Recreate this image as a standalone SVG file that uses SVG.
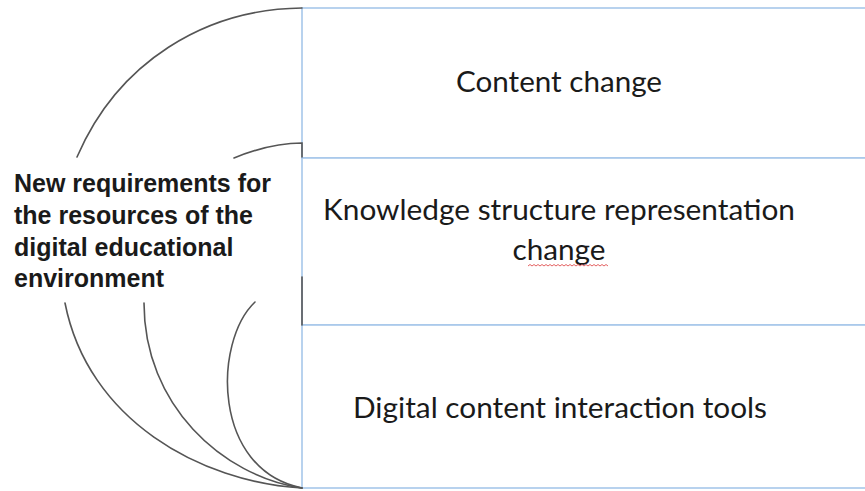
<svg xmlns="http://www.w3.org/2000/svg" width="865" height="491" viewBox="0 0 865 491">
  <style>
    .box { fill: #ffffff; stroke: #a7c7ea; stroke-width: 1.6; }
    .link { fill: none; stroke: #555555; stroke-width: 1.6; stroke-linecap: round; }
    .label { font-family: "Liberation Sans", Arial, sans-serif; font-weight: bold; font-size: 25px; fill: #1a1a1a; }
    .item { font-family: Lato, "Open Sans", sans-serif; font-size: 29px; fill: #1a1a1a; text-anchor: middle; }
  </style>
  <rect width="865" height="491" fill="#ffffff"/>

  <!-- right-hand stack of items -->
  <g id="content-change">
    <rect class="box" x="302" y="8" width="580" height="150"/>
    <text class="item" x="559" y="92" textLength="206" lengthAdjust="spacingAndGlyphs">Content change</text>
  </g>
  <g id="knowledge-structure">
    <rect class="box" x="302" y="158" width="580" height="167"/>
    <text class="item" x="559" y="220" textLength="472" lengthAdjust="spacingAndGlyphs">Knowledge structure representation</text>
    <text class="item" x="559" y="260" textLength="93" lengthAdjust="spacingAndGlyphs">change</text>
    <path d="M528,266 l2,-1.5 l2,1.5 l2,-1.5 l2,1.5 l2,-1.5 l2,1.5 l2,-1.5 l2,1.5 l2,-1.5 l2,1.5 l2,-1.5 l2,1.5 l2,-1.5 l2,1.5 l2,-1.5 l2,1.5 l2,-1.5 l2,1.5 l2,-1.5 l2,1.5 l2,-1.5 l2,1.5 l2,-1.5 l2,1.5 l2,-1.5 l2,1.5 l2,-1.5 l2,1.5 l2,-1.5 l2,1.5 l2,-1.5 l2,1.5 l2,-1.5 l2,1.5 l2,-1.5 l2,1.5 l2,-1.5 l2,1.5 l2,-1.5 l2,1.5" fill="none" stroke="#e05050" stroke-width="0.9"/>
  </g>
  <g id="interaction-tools">
    <rect class="box" x="302" y="325" width="580" height="163"/>
    <text class="item" x="560" y="418" textLength="414" lengthAdjust="spacingAndGlyphs">Digital content interaction tools</text>
  </g>

  <!-- central label -->
  <g id="requirements">
    <text class="label" x="14" y="192">New requirements for</text>
    <text class="label" x="14" y="224">the resources of the</text>
    <text class="label" x="14" y="256">digital educational</text>
    <text class="label" x="14" y="287">environment</text>
  </g>

  <!-- arcs joining the label to the items -->
  <g id="connectors">
    <path class="link" d="M77,157 C118,62 205,9 302,8"/>
    <path class="link" d="M234,158 C256,149 278,143 302,143 L302,157"/>
    <path class="link" d="M302,277 L302,325"/>
    <path class="link" d="M65,303 C88,420 200,482 302,488"/>
    <path class="link" d="M144,303 C144,405 222,476 302,488"/>
    <path class="link" d="M255,302 C213,342 212,470 302,488"/>
  </g>
</svg>
